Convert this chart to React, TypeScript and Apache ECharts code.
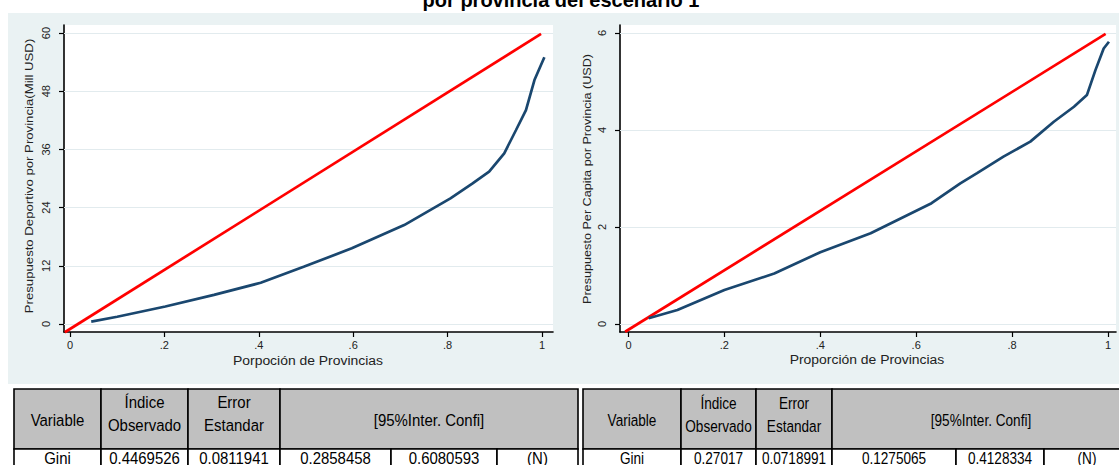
import React, { useEffect, useRef } from "react";
import * as echarts from "echarts";

// ---------- data ----------
const titleText = "por provincia del escenario 1";

const xTicks = [0, 0.2, 0.4, 0.6, 0.8, 1];
const xTickLabels = ["0", ".2", ".4", ".6", ".8", "1"];

const leftYTicks = [0, 12, 24, 36, 48, 60];
const rightYTicks = [0, 2, 4, 6];

const leftYTitle = "Presupuesto Deportivo por Provincia(Mill USD)";
const leftXTitle = "Porpoción de Provincias";
const rightYTitle = "Presupuesto Per Capita por Provincia (USD)";
const rightXTitle = "Proporción de Provincias";

// Lorenz curve (left): [proportion, cumulative budget]
const leftLorenz: [number, number][] = [
  [0.045, 0.5], [0.1, 1.5], [0.202, 3.6], [0.305, 6.0], [0.404, 8.5],
  [0.495, 11.8], [0.597, 15.6], [0.708, 20.4], [0.806, 25.9], [0.853, 29.0],
  [0.888, 31.4], [0.92, 35.2], [0.945, 40.0], [0.966, 44.1], [0.984, 50.3], [1.005, 55.0],
];
const leftEquality: [number, number][] = [[-0.011, -1.7], [0.998, 59.8]];

// Lorenz curve (right)
const rightLorenz: [number, number][] = [
  [0.042, 0.12], [0.102, 0.29], [0.2, 0.7], [0.304, 1.04], [0.4, 1.48], [0.505, 1.87],
  [0.632, 2.49], [0.692, 2.9], [0.727, 3.11], [0.782, 3.45], [0.838, 3.76],
  [0.887, 4.17], [0.929, 4.48], [0.956, 4.72], [0.974, 5.24], [0.991, 5.68], [1.002, 5.82],
];
const rightEquality: [number, number][] = [[-0.007, -0.16], [0.995, 5.98]];

// tables
const tableHeader = ["Variable", "Índice\nObservado", "Error\nEstandar", "[95%Inter. Confi]"];
const leftTableRow = ["Gini", "0.4469526", "0.0811941", "0.2858458", "0.6080593", "(N)"];
const rightTableRow = ["Gini", "0.27017", "0.0718991", "0.1275065", "0.4128334", "(N)"];

// ---------- styling ----------
const FONT = "'Liberation Sans', Arial, sans-serif";
const BLUE = "#1a476f";
const RED = "#ff0000";
const PANEL = "#eaf2f3";
const GRIDLINE = "#e2ebee";

const labelFor = (v: number) => {
  const i = xTicks.findIndex((t) => Math.abs(t - v) < 1e-6);
  return i >= 0 ? xTickLabels[i] : "";
};

function xAxisCfg(gridIndex: number, min: number, max: number) {
  return {
    type: "value",
    gridIndex,
    min,
    max,
    axisLine: { show: true, onZero: false, lineStyle: { color: "#000", width: 1.6 } },
    axisTick: { show: true, length: 5, customValues: xTicks, lineStyle: { color: "#000", width: 1.2 } },
    axisLabel: {
      customValues: xTicks,
      formatter: (v: number) => labelFor(v),
      margin: 7,
      fontFamily: FONT,
      fontSize: 11,
      color: "#222",
    },
    splitLine: { show: false },
  };
}

function yAxisCfg(gridIndex: number, min: number, max: number, ticks: number[]) {
  return {
    type: "value",
    gridIndex,
    min,
    max,
    axisLine: { show: true, onZero: false, lineStyle: { color: "#000", width: 1.6 } },
    axisTick: { show: true, length: 5, customValues: ticks, lineStyle: { color: "#000", width: 1.2 } },
    axisLabel: {
      customValues: ticks,
      formatter: (v: number) => String(Math.round(v)),
      rotate: 90,
      margin: 13,
      fontFamily: FONT,
      fontSize: 11,
      color: "#222",
    },
    splitLine: { show: false },
  };
}

function gridLines(xi: number, ticks: number[]) {
  return {
    type: "line",
    xAxisIndex: xi,
    yAxisIndex: xi,
    data: [],
    silent: true,
    z: 1,
    markLine: {
      silent: true,
      z: 1,
      symbol: "none",
      label: { show: false },
      lineStyle: { color: GRIDLINE, width: 1.2, type: "solid" },
      data: ticks.map((v) => ({ yAxis: v })),
    },
  };
}

function lineSeries(xi: number, data: [number, number][], color: string) {
  return {
    type: "line",
    xAxisIndex: xi,
    yAxisIndex: xi,
    data,
    z: 3,
    showSymbol: false,
    symbol: "none",
    clip: false,
    lineStyle: { color, width: 2.7 },
  };
}

function axisTitle(text: string, x: number, y: number, rotated: boolean, size: number, stretch: number) {
  return {
    type: "text",
    x,
    y,
    rotation: rotated ? Math.PI / 2 : 0,
    scaleX: stretch,
    style: {
      text,
      align: "center",
      verticalAlign: "middle",
      fontFamily: FONT,
      fontSize: size,
      fill: "#222",
    },
  };
}

function tableGraphics(cols: number[], row: string[], squeeze: number) {
  const top = 389;
  const mid = 449;
  const bottom = 495;
  const els: any[] = [];
  const spans = [[0, 1], [1, 2], [2, 3], [3, 6]];
  spans.forEach(([a, b], i) => {
    const twoLine = tableHeader[i].includes("\n");
    els.push({
      type: "rect",
      shape: { x: cols[a], y: top, width: cols[b] - cols[a], height: mid - top },
      style: { fill: "#c0c0c0", stroke: "#000", lineWidth: 1.6 },
    });
    els.push({
      type: "text",
      x: (cols[a] + cols[b]) / 2,
      y: twoLine ? 414 : 420,
      scaleX: squeeze,
      style: {
        text: tableHeader[i],
        align: "center",
        verticalAlign: "middle",
        fontFamily: FONT,
        fontSize: 17,
        lineHeight: 23,
        fill: "#000",
      },
    });
  });
  for (let i = 0; i < 6; i++) {
    els.push({
      type: "rect",
      shape: { x: cols[i], y: mid, width: cols[i + 1] - cols[i], height: bottom - mid },
      style: { fill: "#fff", stroke: "#000", lineWidth: 1.6 },
    });
    els.push({
      type: "text",
      x: (cols[i] + cols[i + 1]) / 2,
      y: 458,
      scaleX: squeeze,
      style: {
        text: row[i],
        align: "center",
        verticalAlign: "middle",
        fontFamily: FONT,
        fontSize: 17,
        fill: "#000",
      },
    });
  }
  return els;
}

function buildOption() {
  return {
    animation: false,
    backgroundColor: "#fff",
    grid: [
      { left: 64, top: 25, width: 489, height: 307, show: true, backgroundColor: "#fff", borderWidth: 0 },
      { left: 620, top: 25, width: 496, height: 307, show: true, backgroundColor: "#fff", borderWidth: 0 },
    ],
    xAxis: [xAxisCfg(0, -0.0127, 1.0233), xAxisCfg(1, -0.0177, 1.0167)],
    yAxis: [
      yAxisCfg(0, -1.65, 61.65, leftYTicks),
      yAxisCfg(1, -0.165, 6.165, rightYTicks),
    ],
    series: [
      gridLines(0, leftYTicks),
      gridLines(1, rightYTicks),
      lineSeries(0, leftEquality, RED),
      lineSeries(0, leftLorenz, BLUE),
      lineSeries(1, rightEquality, RED),
      lineSeries(1, rightLorenz, BLUE),
    ],
    graphic: [
      {
        type: "rect",
        z: -10,
        shape: { x: 8, y: 13, width: 1111, height: 371 },
        style: { fill: PANEL },
      },
      {
        type: "text",
        x: 561,
        y: 10,
        style: {
          text: titleText,
          align: "center",
          verticalAlign: "bottom",
          fontFamily: FONT,
          fontWeight: "bold",
          fontSize: 20,
          fill: "#000",
        },
      },
      axisTitle(leftYTitle, 29, 176, true, 11, 1.2),
      axisTitle(rightYTitle, 587, 179, true, 11, 1.15),
      axisTitle(leftXTitle, 308, 361, false, 12, 1.16),
      axisTitle(rightXTitle, 867, 360, false, 12, 1.16),
      ...tableGraphics([14, 101, 188, 280, 391, 497, 578], leftTableRow, 0.88),
      ...tableGraphics([583, 681, 756, 832, 956, 1044, 1130], rightTableRow, 0.8),
    ],
  };
}

export default function App() {
  const ref = useRef<HTMLDivElement>(null);
  useEffect(() => {
    document.body.style.margin = "0";
    const chart = echarts.init(ref.current!, null, { renderer: "svg" });
    chart.setOption(buildOption() as any);
    return () => chart.dispose();
  }, []);
  return (
    <div
      ref={ref}
      style={{ position: "absolute", left: 0, top: 0, width: 1119, height: 465 }}
    />
  );
}
